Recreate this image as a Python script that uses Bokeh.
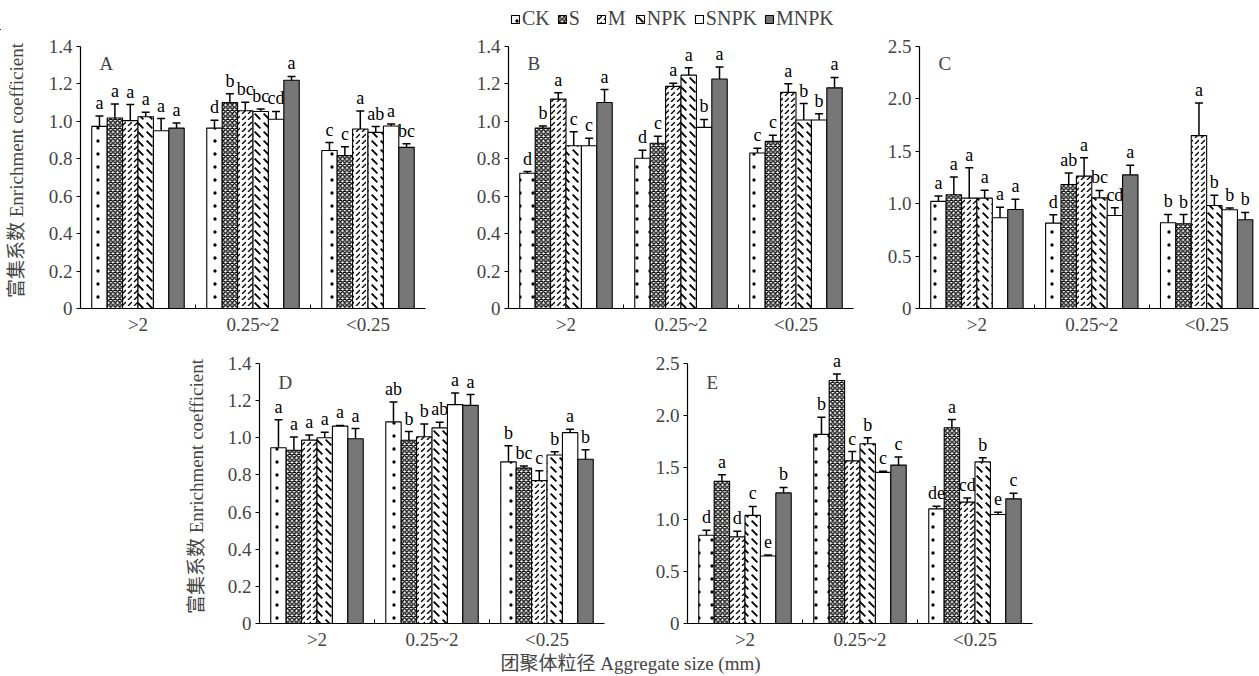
from bokeh.plotting import figure
from bokeh.models import (Range1d, FixedTicker, ColumnDataSource, Whisker, TeeHead,
                          LabelSet, Label, Legend, LegendItem, Spacer)
from bokeh.layouts import column, row
from bokeh.embed import file_html
from bokeh.resources import INLINE

# ---------------- data ----------------
groups = [">2", "0.25~2", "<0.25"]
treatments = ["CK", "S", "M", "NPK", "SNPK", "MNPK"]

A_mean = [[0.973, 1.018, 1.004, 1.025, 0.950, 0.964],
          [0.964, 1.100, 1.057, 1.053, 1.011, 1.220],
          [0.844, 0.817, 0.959, 0.941, 0.975, 0.861]]
A_err = [[0.056, 0.075, 0.086, 0.024, 0.065, 0.027],
         [0.042, 0.047, 0.045, 0.013, 0.042, 0.020],
         [0.043, 0.047, 0.096, 0.031, 0.011, 0.019]]
A_sig = [["a", "a", "a", "a", "a", "a"],
         ["d", "b", "bc", "bc", "cd", "a"],
         ["c", "c", "a", "ab", "a", "bc"]]

B_mean = [[0.723, 0.964, 1.119, 0.870, 0.870, 1.101],
          [0.803, 0.883, 1.187, 1.247, 0.968, 1.226],
          [0.831, 0.893, 1.155, 1.007, 1.007, 1.179]]
B_err = [[0.009, 0.011, 0.034, 0.074, 0.040, 0.069],
         [0.043, 0.037, 0.017, 0.040, 0.042, 0.064],
         [0.025, 0.033, 0.046, 0.088, 0.033, 0.056]]
B_sig = [["d", "b", "a", "c", "c", "a"],
         ["d", "c", "a", "a", "b", "a"],
         ["c", "c", "a", "b", "b", "a"]]

C_mean = [[1.022, 1.085, 1.053, 1.053, 0.866, 0.945],
          [0.815, 1.183, 1.263, 1.056, 0.888, 1.275],
          [0.818, 0.809, 1.650, 0.983, 0.942, 0.847]]
C_err = [[0.052, 0.170, 0.290, 0.075, 0.100, 0.097],
         [0.080, 0.110, 0.176, 0.071, 0.073, 0.092],
         [0.080, 0.087, 0.310, 0.098, 0.016, 0.070]]
C_sig = [["a", "a", "a", "a", "a", "a"],
         ["d", "ab", "a", "bc", "cd", "a"],
         ["b", "b", "a", "b", "b", "b"]]

D_mean = [[0.946, 0.932, 0.987, 1.000, 1.062, 0.994],
          [1.085, 0.986, 1.005, 1.053, 1.178, 1.174],
          [0.870, 0.836, 0.769, 0.907, 1.027, 0.884]]
D_err = [[0.150, 0.071, 0.028, 0.029, 0.004, 0.055],
         [0.107, 0.047, 0.068, 0.030, 0.062, 0.058],
         [0.087, 0.012, 0.053, 0.017, 0.018, 0.051]]
D_sig = [["a", "a", "a", "a", "a", "a"],
         ["ab", "b", "b", "ab", "a", "a"],
         ["b", "bc", "c", "b", "a", "b"]]

E_mean = [[0.848, 1.366, 0.832, 1.039, 0.648, 1.255],
          [1.817, 2.335, 1.563, 1.728, 1.452, 1.522],
          [1.102, 1.881, 1.166, 1.553, 1.048, 1.198]]
E_err = [[0.048, 0.064, 0.054, 0.086, 0.011, 0.053],
         [0.165, 0.062, 0.089, 0.056, 0.010, 0.079],
         [0.024, 0.079, 0.041, 0.040, 0.021, 0.054]]
E_sig = [["d", "a", "d", "c", "e", "b"],
         ["b", "a", "c", "b", "c", "c"],
         ["de", "a", "cd", "b", "e", "c"]]

ticks_14 = [0, 0.2, 0.4, 0.6, 0.8, 1.0, 1.2, 1.4]
ticks_25 = [0, 0.5, 1.0, 1.5, 2.0, 2.5]

YLABEL = "富集系数 Enrichment coefficient"
XLABEL = "团聚体粒径 Aggregate size (mm)"

# ---------------- styles ----------------
FONT = "Liberation Serif, Noto Sans CJK SC"
FS = "19px"
BAR_W = 0.134

STYLES = {
    "CK": dict(fill_color="white", line_alpha=0, hatch_pattern="dot", hatch_scale=13,
               hatch_weight=1, hatch_color="black"),
    "S": dict(fill_color="white", hatch_pattern="diagonal_cross", hatch_scale=4.5, hatch_weight=1.3, hatch_color="black"),
    "M": dict(fill_color="white", hatch_pattern="right_diagonal_dash", hatch_scale=6, hatch_weight=1.4, hatch_color="black"),
    "NPK": dict(fill_color="white", hatch_pattern="left_diagonal_dash", hatch_scale=9, hatch_weight=1.8, hatch_color="black"),
    "SNPK": dict(fill_color="white"),
    "MNPK": dict(fill_color="#777777"),
}
# white ring drawn over the CK dots so that only a small black speck remains;
# this second pass also draws the CK outline on top
CK_TRIM = dict(fill_alpha=0, line_color="black", line_width=1.1, hatch_pattern="ring",
               hatch_scale=13, hatch_weight=3.2, hatch_color="white")

PAD = 14  # extra px of frame above the top tick so letters are not clipped


def panel(tag, means, errs, sigs, ymax, yticks, ml, wf, mr, mt, hf, mb, xend=3.0,
          ylabel=None, label_standoff=7, tag_drop=6):
    p = figure(width=ml + wf + mr, height=mt + hf + mb,
               x_range=Range1d(0, xend), y_range=Range1d(0, ymax * (1 + PAD / (hf - PAD))),
               output_backend="svg", toolbar_location=None,
               min_border_left=ml, min_border_right=mr, min_border_top=mt, min_border_bottom=mb)
    p.outline_line_color = None
    p.grid.visible = False
    p.background_fill_color = None
    p.border_fill_color = None
    unit_px = (hf - PAD) / ymax

    wx, wu, wl, lx, ly, lt = [], [], [], [], [], []
    for i, t in enumerate(treatments):
        xs = [g + 0.5 + (i - 2.5) * BAR_W for g in range(len(groups))]
        tops = [means[g][i] for g in range(len(groups))]
        src = ColumnDataSource(dict(x=xs, top=tops))
        st = dict(line_color="black", line_width=1.1)
        st.update(STYLES[t])
        p.vbar(x="x", top="top", bottom=0, width=BAR_W, source=src, **st)
        if t == "CK":
            p.vbar(x="x", top="top", bottom=0, width=BAR_W, source=src, **CK_TRIM)
        for g in range(len(groups)):
            wx.append(xs[g])
            wu.append(means[g][i] + errs[g][i])
            wl.append(means[g][i] - errs[g][i])
            lx.append(xs[g])
            ly.append(means[g][i] + errs[g][i])
            lt.append(sigs[g][i])

    wsrc = ColumnDataSource(dict(x=wx, upper=wu, lower=wl))
    p.add_layout(Whisker(source=wsrc, base="x", upper="upper", lower="lower",
                         line_color="black", line_width=1.5,
                         upper_head=TeeHead(size=8, line_width=1.5, line_color="black"),
                         lower_head=TeeHead(size=8, line_width=1.5, line_color="black")))
    lsrc = ColumnDataSource(dict(x=lx, y=ly, t=lt))
    p.add_layout(LabelSet(source=lsrc, x="x", y="y", text="t", y_offset=7,
                          text_align="center", text_baseline="alphabetic",
                          text_font=FONT, text_font_size="18px", text_color="black"))

    p.add_layout(Label(x=0.165, y=ymax - tag_drop / unit_px, text=tag, text_baseline="top",
                       text_align="left", text_font=FONT, text_font_size=FS))

    xa = p.xaxis[0]
    xa.ticker = FixedTicker(ticks=[0.5, 1.5, 2.5], minor_ticks=[1, 2])
    xa.major_label_overrides = {0.5: groups[0], 1.5: groups[1], 2.5: groups[2]}
    xa.major_tick_in = 0
    xa.major_tick_out = 0
    xa.minor_tick_in = 4
    xa.minor_tick_out = 0
    xa.major_label_standoff = 5
    xa.major_label_text_font = FONT
    xa.major_label_text_font_size = FS
    xa.axis_line_color = "black"
    xa.axis_line_width = 1.2

    ya = p.yaxis[0]
    ya.bounds = (0, ymax)
    ya.ticker = FixedTicker(ticks=yticks, minor_ticks=[])
    ya.major_label_overrides = {v: ("0" if v == 0 else f"{v:.1f}") for v in yticks}
    ya.major_tick_in = 0
    ya.major_tick_out = 4
    ya.minor_tick_out = 0
    ya.minor_tick_in = 0
    ya.major_label_standoff = 4
    ya.major_label_text_font = FONT
    ya.major_label_text_font_size = FS
    ya.axis_line_color = "black"
    ya.axis_line_width = 1.2
    if ylabel:
        ya.axis_label = ylabel
        ya.axis_label_text_font = FONT
        ya.axis_label_text_font_size = FS
        ya.axis_label_text_font_style = "normal"
        ya.axis_label_standoff = label_standoff
    return p


# ---------------- legend strip ----------------
leg = figure(width=1259, height=30, x_range=Range1d(0, 1259), y_range=Range1d(0, 30),
             output_backend="svg", toolbar_location=None, x_axis_type=None, y_axis_type=None,
             min_border=0)
leg.outline_line_color = None
items = []
for t in treatments:
    # single off-screen dummy bar so that the legend swatch gets drawn
    st = dict(line_color="black", line_width=1.1)
    st.update(STYLES[t])
    r = leg.vbar(x=[-500], top=[1], width=1, **st)
    rs = [r]
    if t == "CK":
        rs.append(leg.vbar(x=[-500], top=[1], width=1, **CK_TRIM))
    items.append(LegendItem(label=t, renderers=rs))
legend = Legend(items=items, orientation="horizontal", location=(510, 0),
                glyph_width=10, glyph_height=10, label_standoff=2, spacing=7,
                padding=0, margin=0, border_line_color=None, background_fill_alpha=0,
                label_text_font=FONT, label_text_font_size="20px", label_height=20)
leg.add_layout(legend)

# ---------------- panels ----------------
# top row: frames start at y=46 (1.4/2.5 tick) and the zero line is at y=308
pA = panel("A", A_mean, A_err, A_sig, 1.4, ticks_14, 80, 345, 10, 16 - PAD, 262 + PAD, 30,
           ylabel=YLABEL, label_standoff=19)
pB = panel("B", B_mean, B_err, B_sig, 1.4, ticks_14, 73, 345, 10, 16 - PAD, 262 + PAD, 30)
pC = panel("C", C_mean, C_err, C_sig, 2.5, ticks_25, 56, 340, 0, 16 - PAD, 262 + PAD, 30, xend=2.96)

# bottom row: top tick at y=363, zero line at y=626
pD = panel("D", D_mean, D_err, D_sig, 1.4, ticks_14, 80, 345, 10, 25 - PAD, 263 + PAD, 26,
           ylabel=YLABEL, label_standoff=18, tag_drop=9)
pE = panel("E", E_mean, E_err, E_sig, 2.5, ticks_25, 73, 345, 10, 25 - PAD, 263 + PAD, 26, tag_drop=9)

# ---------------- x title strip ----------------
xt = figure(width=1259, height=24, x_range=Range1d(0, 1259), y_range=Range1d(0, 24),
            output_backend="svg", toolbar_location=None, x_axis_type=None, y_axis_type=None,
            min_border=0)
xt.outline_line_color = None
xt.add_layout(Label(x=630, y=13, text=XLABEL, text_align="center", text_baseline="middle",
                    text_font=FONT, text_font_size=FS))

layout = column(leg, row(pA, pB, pC), row(Spacer(width=179, height=10), pD, pE), xt)

open("out.html", "w").write(file_html(layout, INLINE))
